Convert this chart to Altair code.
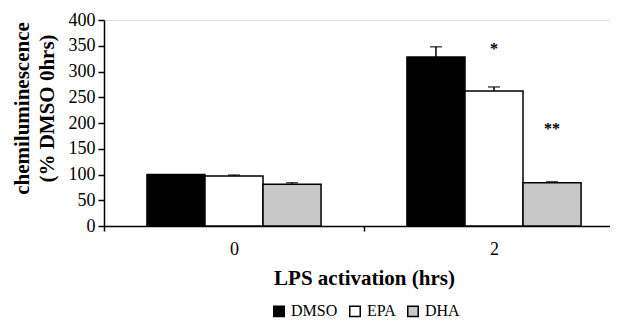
import altair as alt
import pandas as pd

hrs = ["0", "0", "0", "2", "2", "2"]
treatments = ["DMSO", "EPA", "DHA"]
treat = treatments * 2
values = [100, 97, 81, 328, 262, 84]
errors = [0, 2, 3, 20, 8, 2]

star_hrs = ["2", "2"]
star_treat = ["EPA", "DHA"]
star_y = [343, 188]
star_text = ["*", "**"]

y_ticks = [0, 50, 100, 150, 200, 250, 300, 350, 400]

FONT = "Liberation Serif"

df = pd.DataFrame({"hrs": hrs, "treat": treat, "value": values, "err": errors})
df["top"] = df["value"] + df["err"]
err_df = df[df["err"] > 0]
star_df = pd.DataFrame({"hrs": star_hrs, "treat": star_treat, "y": star_y, "t": star_text})

x_axis = alt.Axis(
    title="LPS activation (hrs)", labelAngle=0, tickBand="extent",
    labelFont=FONT, labelFontSize=18, labelColor="black", labelPadding=9,
    titleFont=FONT, titleFontSize=21, titleFontWeight="bold", titleColor="black",
    titlePadding=9, domainColor="black", domainWidth=1.5, tickColor="black",
    tickWidth=1.5, tickSize=5,
)
y_axis = alt.Axis(
    values=y_ticks, grid=False, title=["chemiluminescence", "(% DMSO 0hrs)"],
    labelOverlap=False,
    labelFont=FONT, labelFontSize=18, labelColor="black", labelPadding=3,
    titleFont=FONT, titleFontSize=21, titleFontWeight="bold", titleColor="black",
    titleLineHeight=25, titlePadding=11, titleY=88,
    domainColor="black", domainWidth=1.5, tickColor="black", tickWidth=1.5, tickSize=6,
)
x_scale = alt.Scale(range=[0, 520], paddingInner=0, paddingOuter=0)
xo_scale = alt.Scale(domain=treatments, paddingInner=0, paddingOuter=0.74)
y_scale = alt.Scale(domain=[0, 400], nice=False)


def xenc():
    return alt.X("hrs:N", scale=x_scale, axis=x_axis)


def xoenc():
    return alt.XOffset("treat:N", sort=treatments, scale=xo_scale)


bars = alt.Chart(df).mark_bar(stroke="black", strokeWidth=1.5).encode(
    x=xenc(),
    xOffset=xoenc(),
    y=alt.Y("value:Q", scale=y_scale, axis=y_axis),
    color=alt.Color(
        "treat:N", sort=treatments,
        scale=alt.Scale(domain=treatments, range=["black", "white", "#c8c8c8"]),
        legend=alt.Legend(
            title=None, orient="none", legendX=167, legendY=283, direction="horizontal",
            symbolType="square", symbolSize=110, symbolStrokeColor="black",
            symbolStrokeWidth=1.5, labelFont=FONT, labelFontSize=16, labelColor="black",
            columnPadding=8, labelOffset=4, padding=0,
        ),
    ),
)

rules = alt.Chart(err_df).mark_rule(color="black", strokeWidth=1.5).encode(
    x=xenc(), xOffset=xoenc(),
    y=alt.Y("value:Q", scale=y_scale, axis=y_axis), y2="top:Q",
)
caps = alt.Chart(err_df).mark_tick(color="black", thickness=1.5, size=12).encode(
    x=xenc(), xOffset=xoenc(),
    y=alt.Y("top:Q", scale=y_scale, axis=y_axis),
)
stars = alt.Chart(star_df).mark_text(font=FONT, fontSize=16, fontWeight="bold",
                                     color="black", baseline="middle").encode(
    x=xenc(), xOffset=xoenc(),
    y=alt.Y("y:Q", scale=y_scale, axis=y_axis), text="t:N",
)

chart = alt.layer(bars, rules, caps, stars).properties(
    width=506, height=206,
    autosize=alt.AutoSizeParams(type="none"),
    padding={"left": 96, "top": 12, "right": 0, "bottom": 93},
).configure_view(stroke=None).configure(background="white")

chart.save("out.html", embed_options={"renderer": "svg", "actions": False})
